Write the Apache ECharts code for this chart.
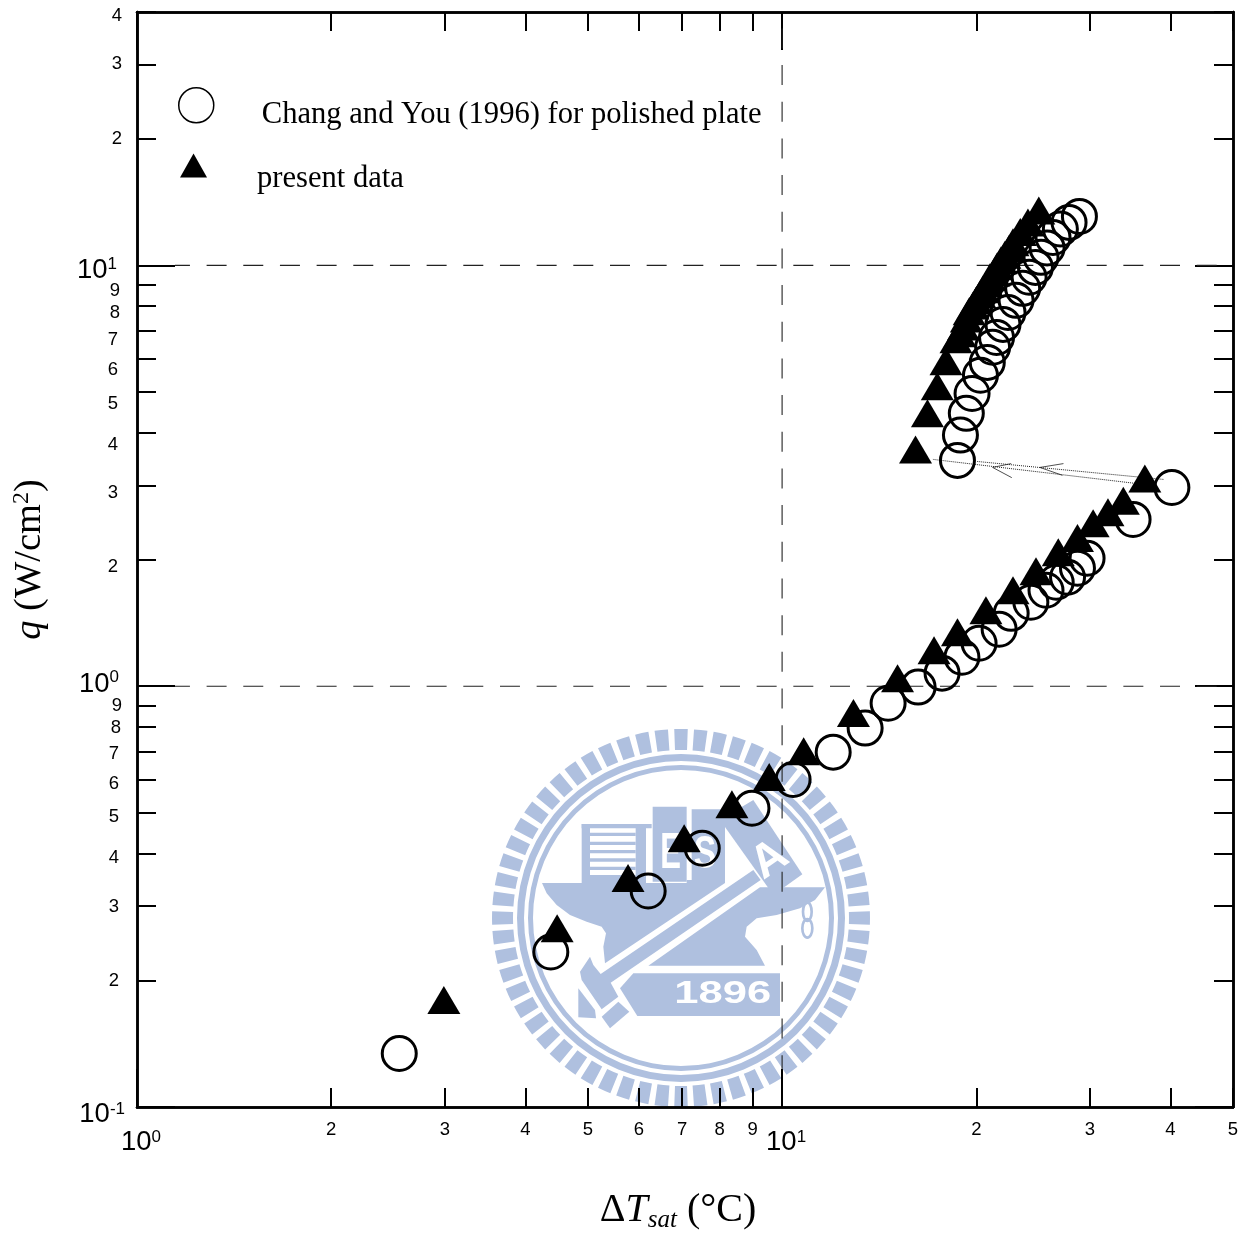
<!DOCTYPE html>
<html>
<head>
<meta charset="utf-8">
<style>html,body{margin:0;padding:0;background:#fff}#c{width:1248px;height:1236px}</style>
<script src="https://cdn.jsdelivr.net/npm/echarts@6/dist/echarts.min.js"></script>
</head>
<body>
<div id="c"></div>
<script>
// ---------- data ----------
const seriesCircleName = 'Chang and You (1996) for polished plate';
const seriesTriangleName = 'present data';

const circleDeltaT = [2.55,4.38,6.2,7.52,8.98,10.4,12.0,13.45,14.6,16.25,17.7,19.0,20.2,21.7,22.65,24.3,25.65,26.6,27.7,28.7,29.7,35.0,40.2,
  18.7,18.9,19.3,19.7,20.3,20.8,21.2,21.5,22.0,22.4,23.05,23.6,24.15,24.7,25.2,25.75,26.3,27.0,27.85,28.9];
const circleFlux = [0.134,0.2335,0.326,0.412,0.513,0.6,0.697,0.795,0.911,0.995,1.074,1.172,1.265,1.366,1.49,1.583,1.69,1.766,1.815,1.907,2.014,2.49,2.965,
  3.44,3.95,4.45,4.96,5.48,5.88,6.39,6.74,7.24,7.73,8.26,8.82,9.37,9.89,10.45,11.0,11.65,12.2,12.65,13.07];

const triangleDeltaT = [2.99,4.48,5.77,7.05,8.36,9.55,10.8,12.9,15.1,17.2,18.7,20.7,22.8,24.75,26.8,28.7,30.35,32.0,33.8,36.5,
  16.1,16.8,17.4,17.95,18.6,18.87,19.1,19.3,19.5,19.77,20.0,20.27,20.5,20.8,21.0,21.3,21.55,21.85,22.15,22.5,22.8,23.4,24.05,25.0];
const triangleFlux = [0.1795,0.266,0.35,0.435,0.524,0.608,0.70,0.863,1.045,1.218,1.343,1.516,1.69,1.876,2.08,2.25,2.44,2.59,2.76,3.115,
  3.65,4.45,5.16,5.92,6.67,6.9,7.16,7.48,7.78,8.03,8.26,8.53,8.77,9.06,9.37,9.62,9.95,10.28,10.6,10.97,11.35,12.0,12.65,13.5];

// hysteresis return lines and their open arrow heads
const returnLineA = [[39.0,3.10],[20.05,3.42]];
const returnLineB = [[35.5,3.03],[17.1,3.46]];
const arrowHeadA = [[27.3,3.38],[25.1,3.31],[27.2,3.17]];
const arrowHeadB = [[22.65,3.38],[21.2,3.31],[22.7,3.13]];

// reference dashed lines at the decades
const decadeLineFlux10 = [[1.145,10],[50,10]];
const decadeLineFlux1 = [[1.145,1],[50,1]];
const decadeLineT10 = [[10,0.123],[10,40]];

// axis ticks
const xMinorTicks = [2,3,4,5,6,7,8,9,20,30,40,50];
const xMajorTicks = [1,10];
const yMinorTicks = [0.2,0.3,0.4,0.5,0.6,0.7,0.8,0.9,2,3,4,5,6,7,8,9,20,30,40];
const yMajorTicks = [0.1,1,10];

// ---------- styles ----------
const sans = '"Liberation Sans", Arial, sans-serif';
const serif = '"Liberation Serif", "Times New Roman", serif';
const logoBlue = '#afc0df';

// [down, left] nudges (px) of the left-hand tick labels, as placed in the reference
const yLabelNudge = {
  0.2:[1,3],0.3:[1,3],0.4:[4,3],0.5:[4,3],0.6:[4,3],0.7:[3,3],0.8:[1,1],0.9:[0,0],
  2:[7,4],3:[8,4],4:[12,4],5:[12,4],6:[11,4],7:[9,4],8:[7,2],9:[6,2],
  20:[0,0],30:[-1,0],40:[4,0]
};
const richMinor = {};
yMinorTicks.forEach((k, i) => {
  const [dy, dx] = yLabelNudge[k];
  richMinor['n' + i] = {fontFamily: sans, fontSize: 18.5, color: '#000',
    padding: dy >= 0 ? [2 * dy, dx, 0, 0] : [0, dx, -2 * dy, 0]};
});
const leadDigit = v => Math.round(v / Math.pow(10, Math.floor(Math.log10(v) + 1e-9)));
const yMinorFmt = v => {
  const k = Number(Number(v).toPrecision(2));
  return '{n' + yMinorTicks.indexOf(k) + '|' + leadDigit(k) + '}';
};
const yMajorFmt = v => {
  const e = Math.round(Math.log10(v));
  if (e === 1) return '{p1|10}{q1|1}';
  if (e === 0) return '{p0|10}{q0|0}';
  return '{pm|10}{qm|-1}';
};
const xMajorFmt = v => {
  const e = Math.round(Math.log10(v));
  return e === 0 ? '{gapl|}{p|10}{q|0}' : '{gapl|}{p|10}{q|1}';
};

function baseAxis(min, max, position, ticks, len, extra) {
  return Object.assign({
    type: 'log', logBase: 10, min, max, position, scale: false,
    axisLine: {show: true, onZero: false, lineStyle: {color: '#000', width: 2.5}},
    axisTick: {show: true, inside: true, length: len, customValues: ticks, lineStyle: {color: '#000', width: 2}},
    axisLabel: {show: false},
    minorTick: {show: false}, splitLine: {show: false}, minorSplitLine: {show: false}
  }, extra || {});
}

const xAxes = [
  baseAxis(1, 50, 'bottom', xMinorTicks, 19, {
    axisLabel: {show: true, customValues: xMinorTicks, margin: 13, hideOverlap: false, showMinLabel: true, showMaxLabel: true,
      fontFamily: sans, fontSize: 18.5, color: '#000', formatter: v => String(leadDigit(v))},
    name: '{t|\u0394}{ti|T}{sub|sat}{t| (\u00b0C)}', nameLocation: 'middle', nameGap: 81,
    nameTextStyle: {padding: [0, 14, 0, 0], rich: {
      t: {fontFamily: serif, fontSize: 40, color: '#000'},
      ti: {fontFamily: serif, fontSize: 40, fontStyle: 'italic', color: '#000'},
      sub: {fontFamily: serif, fontSize: 25, fontStyle: 'italic', color: '#000', padding: [20, 0, 0, 0]}
    }}
  }),
  baseAxis(1, 50, 'top', xMinorTicks, 19),
  baseAxis(1, 50, 'bottom', xMajorTicks, 38, {
    axisLabel: {show: true, customValues: xMajorTicks, margin: 21, hideOverlap: false, showMinLabel: true, showMaxLabel: true, formatter: xMajorFmt,
      rich: {
        gapl: {width: 8},
        p: {fontFamily: sans, fontSize: 27.5, color: '#000'},
        q: {fontFamily: sans, fontSize: 17, color: '#000', padding: [0, 0, 10, 0]}
      }}
  }),
  baseAxis(1, 50, 'top', xMajorTicks, 38)
];

const yAxes = [
  baseAxis(0.1, 40, 'left', yMinorTicks, 19, {
    axisLabel: {show: true, customValues: yMinorTicks, margin: 15, hideOverlap: false, showMinLabel: true, showMaxLabel: true,
      formatter: yMinorFmt, rich: richMinor},
    name: '{i|q}{t| (W/cm}{s|2}{t|)}', nameLocation: 'middle', nameGap: 87, nameRotate: 90,
    nameTextStyle: {rich: {
      t: {fontFamily: serif, fontSize: 38.5, color: '#000'},
      i: {fontFamily: serif, fontSize: 38.5, fontStyle: 'italic', color: '#000'},
      s: {fontFamily: serif, fontSize: 24, color: '#000', padding: [0, 0, 16, 0]}
    }}
  }),
  baseAxis(0.1, 40, 'right', yMinorTicks, 19),
  baseAxis(0.1, 40, 'left', yMajorTicks, 38, {
    axisLabel: {show: true, customValues: yMajorTicks, margin: 12, hideOverlap: false, showMinLabel: true, showMaxLabel: true, formatter: yMajorFmt,
      rich: {
        p1: {fontFamily: sans, fontSize: 27.5, color: '#000', padding: [10, 0, 0, 0]},
        q1: {fontFamily: sans, fontSize: 17, color: '#000', padding: [0, 8, 2, 0]},
        p0: {fontFamily: sans, fontSize: 27.5, color: '#000', padding: [0, 0, 4, 0]},
        q0: {fontFamily: sans, fontSize: 17, color: '#000', padding: [0, 6, 18, 0]},
        pm: {fontFamily: sans, fontSize: 27.5, color: '#000', padding: [14, 0, 0, 0]},
        qm: {fontFamily: sans, fontSize: 17, color: '#000', padding: [4, 0, 0, 0]}
      }}
  }),
  baseAxis(0.1, 40, 'right', yMajorTicks, 38)
];

const zip = (a, b) => a.map((v, i) => [v, b[i]]);
const thinLine = (data, lineStyle) => ({
  type: 'line', data, symbol: 'none', silent: true, animation: false, z: 1,
  lineStyle, xAxisIndex: 0, yAxisIndex: 0
});

// ---------- watermark emblem (drawn in a 3x local frame) ----------
const cx = 333, cy = 354;
const poly = (points, fill) => ({type: 'polygon', shape: {points}, style: {fill: fill || logoBlue}, z: -5});
const rect = (x, y, width, height, fill) => ({type: 'rect', shape: {x, y, width, height}, style: {fill: fill || logoBlue}, z: -5});
const ring = (r, r0) => ({type: 'ring', shape: {cx, cy, r, r0}, style: {fill: logoBlue}, z: -5});
const word = (text, x, y, size, sx, rotation) => ({type: 'text', x, y, scaleX: sx, rotation: rotation || 0, z: -4,
  style: {text, x: 0, y: 0, fill: '#fff', font: 'bold ' + size + 'px ' + sans, textAlign: 'center', textVerticalAlign: 'middle'}});

const logo = [];
for (let i = 0; i < 60; i++) {
  const a = i * 6 * Math.PI / 180, d = 2.05 * Math.PI / 180;
  logo.push({type: 'sector', shape: {cx, cy, r: 567, r0: 504, startAngle: a - d, endAngle: a + d}, style: {fill: logoBlue}, z: -5});
}
logo.push(ring(492, 471), ring(459, 444));
logo.push(
  poly([[-84,249],[465,249],[105,490],[100,440],[108,400],[95,380],[50,365],[0,345],[-40,315],[-70,280]]),
  poly([[235,497],[570,262],[765,262],[735,300],[690,325],[620,345],[560,355],[530,380],[525,410],[560,450],[585,497]]),
  poly([[60,470],[70,495],[92,522],[550,210],[572,240],[122,548],[145,590],[95,628],[35,540],[30,515]]),
  poly([[145,605],[178,635],[120,685],[95,650]]),
  poly([[25,565],[75,630],[78,655],[25,652]]),
  poly([[190,520],[630,520],[630,648],[202,648],[150,565]]),
  poly([[450,60],[550,0],[697,223],[610,285]]),
  rect(35,72,210,13), rect(35,72,25,177), rect(197,72,31,177),
  rect(60,98,137,10), rect(60,125,137,10), rect(60,150,137,10), rect(60,175,137,10), rect(60,200,137,10), rect(60,225,137,24),
  rect(248,20,102,225), rect(365,28,100,212), rect(350,240,115,9),
  {type: 'ellipse', shape: {cx: 712, cy: 335, rx: 13, ry: 28}, style: {fill: 'none', stroke: logoBlue, lineWidth: 8}, z: -5},
  {type: 'ellipse', shape: {cx: 712, cy: 385, rx: 15, ry: 28}, style: {fill: 'none', stroke: logoBlue, lineWidth: 8}, z: -5},
  word('E', 302, 162, 150, 0.62),
  word('S', 405, 165, 140, 0.72),
  word('A', 600, 180, 140, 1, 0.6),
  word('1896', 458, 583, 92, 1.42)
);

const legendBase = {orient: 'horizontal', padding: 0, selectedMode: false};

const option = {
  animation: false,
  backgroundColor: '#fff',
  grid: {left: 137, top: 12, width: 1096, height: 1095, containLabel: false, outerBoundsMode: 'none'},
  xAxis: xAxes,
  yAxis: yAxes,
  legend: [
    Object.assign({}, legendBase, {
      left: 178, top: 87, itemWidth: 35, itemHeight: 35,
      data: [{name: seriesCircleName, icon: 'circle', itemStyle: {color: 'transparent', borderColor: '#000', borderWidth: 1.5}}],
      formatter: n => '{t|' + n + '}',
      textStyle: {rich: {t: {fontFamily: serif, fontSize: 30.6, color: '#000', padding: [20, 0, 0, 43]}}}
    }),
    Object.assign({}, legendBase, {
      left: 180, top: 153.5, itemWidth: 27, itemHeight: 24,
      data: [{name: seriesTriangleName, icon: 'triangle', itemStyle: {color: '#000', borderWidth: 0}}],
      formatter: n => '{t|' + n + '}',
      textStyle: {rich: {t: {fontFamily: serif, fontSize: 30.6, color: '#000', padding: [27, 0, 0, 45]}}}
    })
  ],
  graphic: {elements: [{type: 'group', x: 570, y: 800, scaleX: 1 / 3, scaleY: 1 / 3, z: -5, silent: true, children: logo}]},
  series: [
    thinLine(decadeLineFlux10, {color: '#222', width: 1.1, type: [20, 16.67], dashOffset: 5}),
    thinLine(decadeLineFlux1, {color: '#222', width: 1.1, type: [20, 16.67], dashOffset: 5}),
    thinLine(decadeLineT10, {color: '#222', width: 1.1, type: [20, 16.67], dashOffset: 6}),
    thinLine(returnLineA, {color: '#222', width: 1, type: [1, 1]}),
    thinLine(returnLineB, {color: '#222', width: 1, type: [1, 1]}),
    thinLine(arrowHeadA, {color: '#222', width: 0.8}),
    thinLine(arrowHeadB, {color: '#222', width: 0.8}),
    {
      name: seriesTriangleName, type: 'scatter', data: zip(triangleDeltaT, triangleFlux),
      symbol: 'triangle', symbolSize: [33, 28], itemStyle: {color: '#000', opacity: 1}, z: 3,
      xAxisIndex: 0, yAxisIndex: 0, clip: false
    },
    {
      name: seriesCircleName, type: 'scatter', data: zip(circleDeltaT, circleFlux),
      symbol: 'circle', symbolSize: 34, itemStyle: {color: 'transparent', borderColor: '#000', borderWidth: 3, opacity: 1}, z: 4,
      xAxisIndex: 0, yAxisIndex: 0, clip: false
    }
  ]
};
const chart = echarts.init(document.getElementById('c'), null, {renderer: 'canvas'});
chart.setOption(option);
</script>
</body>
</html>
